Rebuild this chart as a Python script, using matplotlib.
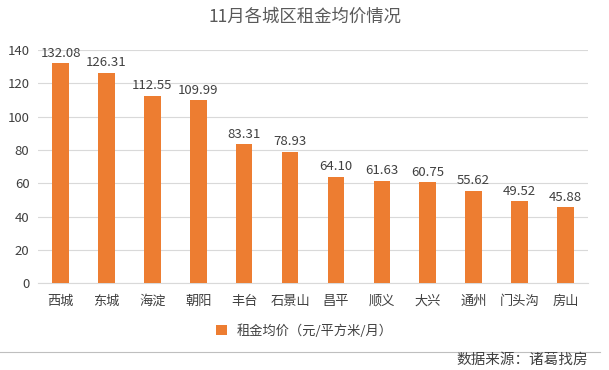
import matplotlib.pyplot as plt
from matplotlib.lines import Line2D

plt.rcParams['font.family'] = ['Noto Sans CJK SC', 'DejaVu Sans']

districts = ['西城', '东城', '海淀', '朝阳', '丰台', '石景山', '昌平', '顺义', '大兴', '通州', '门头沟', '房山']
rent = [132.08, 126.31, 112.55, 109.99, 83.31, 78.93, 64.10, 61.63, 60.75, 55.62, 49.52, 45.88]
yticks = [0, 20, 40, 60, 80, 100, 120, 140]

BAR = '#ED7D31'
TXT = '#404040'

fig = plt.figure(figsize=(6.09, 3.70), dpi=100)
ax = fig.add_axes([0.062, 0.234, 0.904, 0.631])

x = range(len(districts))
bars = ax.bar(x, rent, width=0.36, color=BAR, label='租金均价（元/平方米/月）', zorder=3)
for xi, v in zip(x, rent):
    ax.text(xi, v + 2, f'{v:.2f}', ha='center', va='bottom', fontsize=9.5, color=TXT)

ax.set_xlim(-0.5, len(districts) - 0.5)
ax.set_ylim(0, 140)
ax.set_yticks(yticks)
ax.set_xticks(list(x))
ax.set_xticklabels(districts, fontsize=9.5, color=TXT)
ax.tick_params(axis='y', labelsize=9.5, colors=TXT, length=0, pad=6)
ax.tick_params(axis='x', length=0, pad=8)
ax.grid(axis='y', color='#D9D9D9', linewidth=0.8, zorder=0)
for s in ['top', 'right', 'left']:
    ax.spines[s].set_visible(False)
ax.spines['bottom'].set_color('#D9D9D9')

fig.text(0.5, 0.955, '11月各城区租金均价情况', ha='center', va='center', fontsize=12.5, color='#595959')

fig.legend(handles=[bars], loc='center', bbox_to_anchor=(0.5, 0.106), frameon=False,
           fontsize=9.5, handlelength=0.8, handleheight=0.8, labelcolor=TXT)

fig.add_artist(Line2D([0.0, 0.985], [0.05, 0.05], transform=fig.transFigure, color='#BFBFBF', linewidth=0.8))
fig.text(0.965, 0.027, '数据来源：诸葛找房', ha='right', va='center', fontsize=10.5, color='#404040')

fig.savefig('out.png', dpi=100)
